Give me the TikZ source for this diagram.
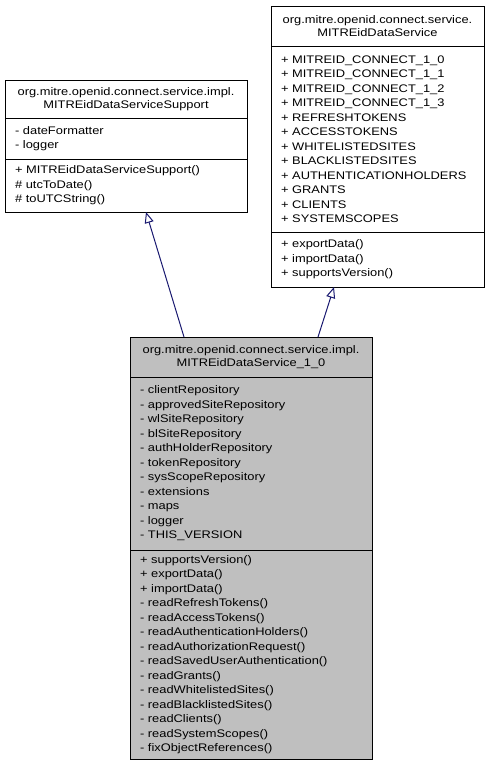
\documentclass[tikz,border=0pt]{standalone}
\usepackage{fontspec}
\newfontfamily\umlfont{Liberation Sans}[FakeStretch=1.17]
\usepackage{xcolor}
\usetikzlibrary{arrows.meta,positioning}
\definecolor{edgeblue}{RGB}{25,25,112}
\definecolor{focusgray}{RGB}{191,191,191}

\begin{document}
\begin{tikzpicture}[x=1pt, y=-1pt,
    classhead/.style={draw, line width=1pt, outer sep=0pt, align=center,
                      text width=#1, inner xsep=10pt, inner ysep=0pt,
                      font=\umlfont\fontsize{11}{12.8}\selectfont},
    classpart/.style={draw, line width=1pt, outer sep=0pt, align=left,
                      text width=#1, inner xsep=10pt, inner ysep=0pt,
                      font=\umlfont\fontsize{11}{14.5}\selectfont},
    inherit/.style={draw=edgeblue, line width=1pt,
                    arrows=-{Triangle[open, length=11pt, width=9pt]}}]
  \useasboundingbox (0,0) rectangle (490,771);
  % Base class: MITREidDataServiceSupport
  \node (supHead)[classhead=222, minimum height=38pt, anchor=north west] at (5,80)
    {org.mitre.openid.connect.service.impl.\\MITREidDataServiceSupport};
  \node (supAttr)[classpart=222, minimum height=41pt, below=0pt of supHead]
    {- dateFormatter\\- logger};
  \node (supOps)[classpart=222, minimum height=53pt, below=0pt of supAttr]
    {+ MITREidDataServiceSupport()\\\# utcToDate()\\\# toUTCString()};
  % Interface: MITREidDataService
  \node (ifHead)[classhead=193, minimum height=40pt, anchor=north west] at (271,6)
    {org.mitre.openid.connect.service.\\MITREidDataService};
  \node (ifAttr)[classpart=193, minimum height=186pt, below=0pt of ifHead]
    {+ MITREID\_CONNECT\_1\_0\\+ MITREID\_CONNECT\_1\_1\\+ MITREID\_CONNECT\_1\_2\\
     + MITREID\_CONNECT\_1\_3\\+ REFRESHTOKENS\\+ ACCESSTOKENS\\+ WHITELISTEDSITES\\
     + BLACKLISTEDSITES\\+ AUTHENTICATIONHOLDERS\\+ GRANTS\\+ CLIENTS\\+ SYSTEMSCOPES};
  \node (ifOps)[classpart=193, minimum height=55pt, below=0pt of ifAttr]
    {+ exportData()\\+ importData()\\+ supportsVersion()};
  % Implementation: MITREidDataService_1_0
  \node (implHead)[classhead=222, fill=focusgray, minimum height=40pt, anchor=north west] at (130,337)
    {org.mitre.openid.connect.service.impl.\\MITREidDataService\_1\_0};
  \node (implAttr)[classpart=222, fill=focusgray, minimum height=173pt, below=0pt of implHead]
    {- clientRepository\\- approvedSiteRepository\\- wlSiteRepository\\- blSiteRepository\\
     - authHolderRepository\\- tokenRepository\\- sysScopeRepository\\- extensions\\
     - maps\\- logger\\- THIS\_VERSION};
  \node (implOps)[classpart=222, fill=focusgray, minimum height=209pt, below=0pt of implAttr]
    {+ supportsVersion()\\+ exportData()\\+ importData()\\- readRefreshTokens()\\
     - readAccessTokens()\\- readAuthenticationHolders()\\- readAuthorizationRequest()\\
     - readSavedUserAuthentication()\\- readGrants()\\- readWhitelistedSites()\\
     - readBlacklistedSites()\\- readClients()\\- readSystemScopes()\\- fixObjectReferences()};
  % Generalisation arrows
  \draw[inherit] (implHead.north -| 184,0) -- (supOps.south -| 146,0);
  \draw[inherit] (implHead.north -| 318,0) -- (ifOps.south -| 334,0);
\end{tikzpicture}
\end{document}
